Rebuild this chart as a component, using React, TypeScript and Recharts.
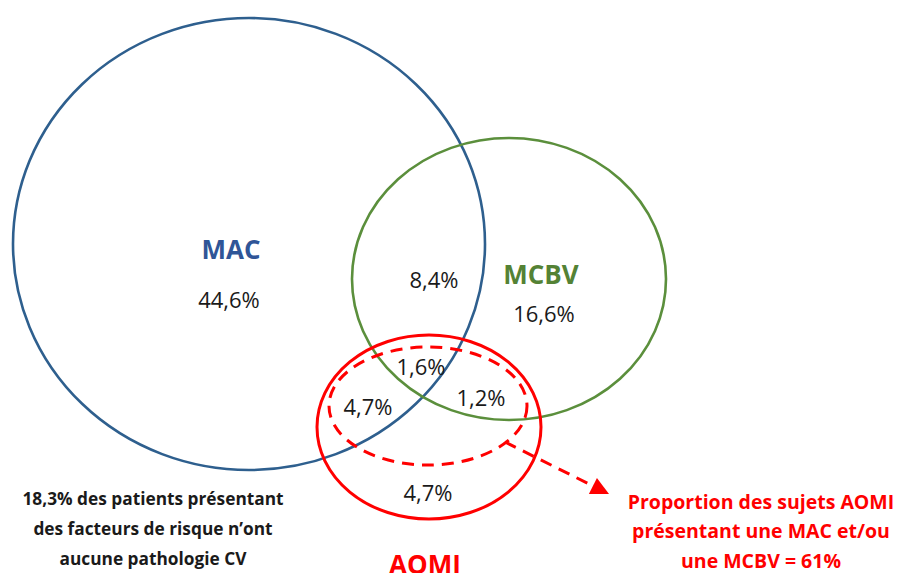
import { Scatter, ScatterChart, XAxis, YAxis } from 'recharts'

const W = 903
const H = 573
const FONT = '"Open Sans", "Noto Sans", sans-serif'

// ensembles (cercles / ellipses du diagramme)
const setKeys = ['MAC', 'MCBV', 'AOMI', 'AOMI_MAC_MCBV']
const setCx = [249, 509, 429, 428]
const setCy = [244, 279, 427, 406]
const setRx = [236, 157, 112, 99]
const setRy = [226, 141, 92, 59]

// noms des ensembles
const setNames = ['MAC', 'MCBV', 'AOMI']
const setNameX = [231, 541, 425]
const setNameY = [249, 274, 564]

// pourcentages par zone
const shares = ['44,6%', '8,4%', '16,6%', '1,6%', '4,7%', '1,2%', '4,7%']
const shareX = [229, 434, 544, 421, 368, 481, 428]
const shareY = [299, 279, 313, 366, 406, 397, 492]

// textes annexes
const noteLines = ['18,3% des patients présentant', 'des facteurs de risque n\u2019ont', 'aucune pathologie CV']
const calloutLines = ['Proportion des sujets AOMI', 'présentant une MAC et/ou', 'une MCBV = 61%']

// flèche
const arrowX = [505, 609]
const arrowY = [442, 494]

const BLUE = '#2e5f8e'
const BLUE_TEXT = '#2f5597'
const GREEN = '#5b8f3c'
const GREEN_TEXT = '#548235'
const RED = '#ff0000'

const strokeBySet: Record<string, { stroke: string; width: number; dash?: string }> = {
  MAC: { stroke: BLUE, width: 2.6 },
  MCBV: { stroke: GREEN, width: 2.6 },
  AOMI: { stroke: RED, width: 3 },
  AOMI_MAC_MCBV: { stroke: RED, width: 3, dash: '12 8' }
}
const nameColor: Record<string, string> = { MAC: BLUE_TEXT, MCBV: GREEN_TEXT, AOMI: RED }

const setData = setKeys.map((key, i) => ({ key, x: setCx[i], y: setCy[i], rx: setRx[i], ry: setRy[i] }))
const nameData = setNames.map((label, i) => ({ label, x: setNameX[i], y: setNameY[i] }))
const shareData = shares.map((label, i) => ({ label, x: shareX[i], y: shareY[i] }))
const noteData = noteLines.map((label, i) => ({ label, x: 153, y: 498 + i * 30 }))
const calloutData = calloutLines.map((label, i) => ({ label, x: 761, y: 501 + i * 29.5 }))
const arrowData = arrowX.map((x, i) => ({ x, y: arrowY[i], end: i === arrowX.length - 1 }))

const EllipseShape = (props: any) => {
  const { cx, cy, payload } = props
  const s = strokeBySet[payload.key]
  return (
    <ellipse
      cx={cx}
      cy={cy}
      rx={payload.rx}
      ry={payload.ry}
      fill="none"
      stroke={s.stroke}
      strokeWidth={s.width}
      strokeDasharray={s.dash}
    />
  )
}

const textShape = (fill: string | ((p: any) => string), size: number, weight: number) => (props: any) => {
  const { cx, cy, payload } = props
  const color = typeof fill === 'function' ? fill(payload) : fill
  return (
    <text x={cx} y={cy} textAnchor="middle" dominantBaseline="central" fill={color} fontSize={size} fontWeight={weight} fontFamily={FONT}>
      {payload.label}
    </text>
  )
}

// pointe de flèche : triangle orienté le long du segment
const ArrowHead = (props: any) => {
  const { cx, cy, payload } = props
  if (!payload.end) return <g />
  const a = Math.atan2(arrowY[1] - arrowY[0], arrowX[1] - arrowX[0])
  const len = 18
  const half = 9
  const bx = cx - len * Math.cos(a)
  const by = cy - len * Math.sin(a)
  const px = -Math.sin(a) * half
  const py = Math.cos(a) * half
  const pts = `${cx},${cy} ${bx + px},${by + py} ${bx - px},${by - py}`
  return <path d={`M${pts.split(' ').join(' L')} Z`} fill={RED} stroke="none" />
}

export default function App() {
  return (
    <div style={{ position: 'absolute', left: 0, top: 0, width: W, height: H, background: '#fff' }}>
      <ScatterChart width={W} height={H} margin={{ top: 0, right: 0, bottom: 0, left: 0 }}>
        <XAxis type="number" dataKey="x" domain={[0, W]} hide />
        <YAxis type="number" dataKey="y" domain={[0, H]} reversed hide />
        <Scatter data={setData} shape={EllipseShape} isAnimationActive={false} />
        <Scatter
          data={arrowData}
          line={{ stroke: RED, strokeWidth: 3, strokeDasharray: '12 8' }}
          lineType="joint"
          shape={ArrowHead}
          isAnimationActive={false}
        />
        <Scatter data={nameData} shape={textShape((p) => nameColor[p.label], 26, 700)} isAnimationActive={false} />
        <Scatter data={shareData} shape={textShape('#1a1a1a', 22, 400)} isAnimationActive={false} />
        <Scatter data={noteData} shape={textShape('#1a1a1a', 17.3, 700)} isAnimationActive={false} />
        <Scatter data={calloutData} shape={textShape(RED, 19.5, 700)} isAnimationActive={false} />
      </ScatterChart>
    </div>
  )
}
